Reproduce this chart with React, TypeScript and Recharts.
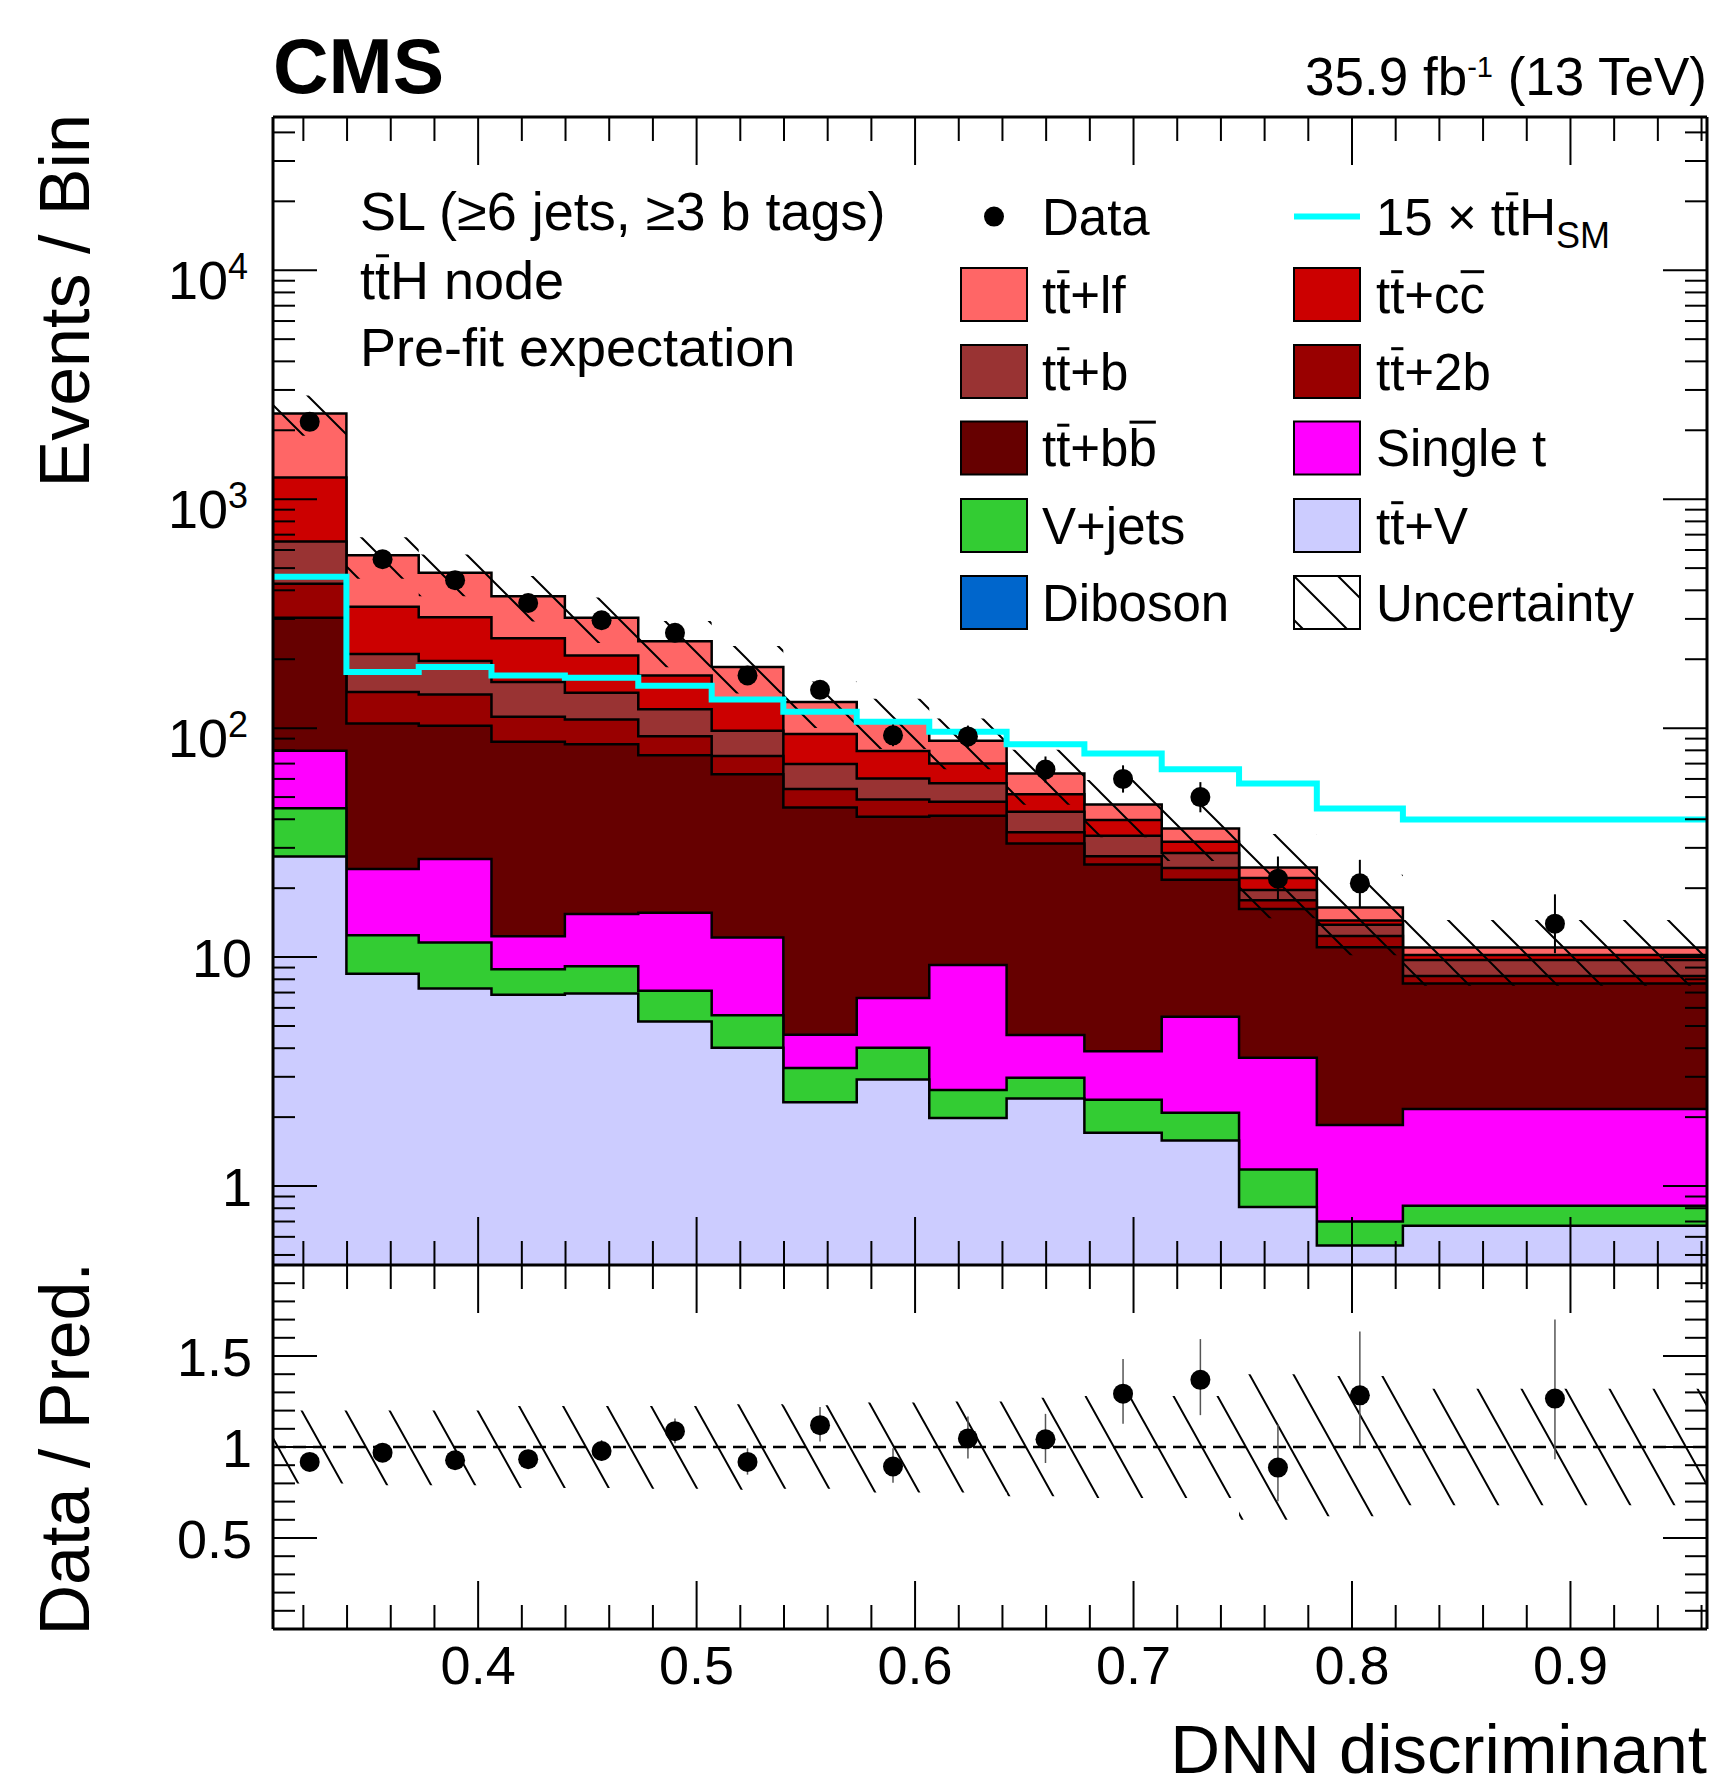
import React from "react";
import {
  Area,
  ComposedChart,
  ErrorBar,
  Line,
  ReferenceLine,
  Scatter,
  XAxis,
  YAxis,
} from "recharts";

const FONT = "'Liberation Sans', Arial, Helvetica, sans-serif";

// bin edges of the DNN discriminant
const binEdges = [
  0.3061, 0.3397, 0.3728, 0.4061, 0.4397, 0.4733, 0.5069, 0.5397, 0.5733, 0.6065, 0.6419, 0.6775,
  0.7129, 0.7483, 0.7839, 0.8233, 0.9625,
];

// pre-fit yields per process (bottom of the stack first)
const diboson = [0.12, 0.05, 0.04, 0.04, 0.03, 0.03, 0.02, 0.02, 0.02, 0.02, 0.01, 0.01, 0.01, 0.01, 0.01, 0.01];
const ttV = [27.4, 8.4, 7.25, 6.8, 6.9, 5.2, 4.0, 2.3, 2.9, 1.96, 2.4, 1.7, 1.57, 0.8, 0.54, 0.66];
const vJets = [17.2, 4.0, 4.3, 2.0, 2.2, 1.9, 1.55, 0.96, 1.1, 0.65, 0.56, 0.67, 0.51, 0.37, 0.15, 0.15];
const singleT = [35, 11.8, 15.2, 3.5, 6.3, 8.5, 6.6, 1.3, 2.6, 6.6, 1.6, 1.5, 3.4, 2.45, 1.15, 1.35];
const ttbb = [224, 80.6, 75.6, 74.8, 69.7, 60.6, 50.7, 40.4, 34.4, 32.2, 26.8, 21.5, 16.3, 12.6, 9.2, 5.5];
const tt2b = [124, 39, 38, 25, 24, 16, 12.7, 9.3, 7.8, 6.3, 3.7, 2.2, 2.7, 1.5, 1.3, 0.6];
const ttb = [225, 67, 56, 47, 33.6, 28.6, 21.8, 15.4, 11.5, 9.7, 8.1, 6.3, 4.0, 1.9, 1.5, 1.44];
const ttcc = [591, 128, 109, 88, 65, 49, 37.7, 24.6, 19.1, 12.7, 8.3, 5.8, 3.4, 2.5, 0.6, 0.5];
const ttlf = [1123, 230, 172, 130, 96, 70, 50, 35.8, 28.6, 18, 11.9, 6.7, 4.6, 2.5, 2.0, 0.8];

// 15 x ttH signal
const ttH15 = [458, 176, 185, 170, 166, 153, 133.5, 117.8, 106.6, 96.4, 85.1, 77.5, 66.2, 57.3, 44.6, 39.9];

// relative uncertainty band
const uncDown = [0.8, 0.79, 0.79, 0.775, 0.775, 0.77, 0.765, 0.77, 0.75, 0.75, 0.73, 0.72, 0.72, 0.6, 0.62, 0.68];
const uncUp = [1.2, 1.2, 1.2, 1.225, 1.225, 1.225, 1.235, 1.23, 1.245, 1.25, 1.27, 1.28, 1.28, 1.4, 1.39, 1.32];

// data
const dataCounts = [2177, 547, 443, 352, 296, 261, 170, 147, 93, 92, 66, 60, 50, 22, 21, 14];
const dataErrDown = [46, 23, 21, 19, 17, 16, 13, 12, 9.6, 9.5, 8.1, 7.7, 7.1, 4.2, 4.5, 3.6];
const dataErrUp = [47, 24, 22, 20, 18, 17, 14, 13, 10.7, 10.6, 9.2, 8.8, 8.1, 5.5, 5.6, 4.8];

// data / prediction
const ratioValues = [0.918, 0.969, 0.927, 0.933, 0.978, 1.087, 0.918, 1.12, 0.893, 1.047, 1.042, 1.293, 1.369, 0.887, 1.284, 1.266];
const ratioErrDown = [0.02, 0.04, 0.045, 0.05, 0.055, 0.066, 0.07, 0.09, 0.09, 0.11, 0.13, 0.165, 0.194, 0.185, 0.28, 0.333];
const ratioErrUp = [0.02, 0.04, 0.045, 0.05, 0.06, 0.07, 0.075, 0.1, 0.1, 0.12, 0.14, 0.19, 0.224, 0.237, 0.35, 0.434];

// axes
const X_MIN = 0.3061;
const X_MAX = 0.9625;
const Y_MIN = 0.452;
const Y_MAX = 46700;
const xTicks = [
  0.32, 0.34, 0.36, 0.38, 0.4, 0.42, 0.44, 0.46, 0.48, 0.5, 0.52, 0.54, 0.56, 0.58, 0.6, 0.62, 0.64,
  0.66, 0.68, 0.7, 0.72, 0.74, 0.76, 0.78, 0.8, 0.82, 0.84, 0.86, 0.88, 0.9, 0.92, 0.94, 0.96,
];
const xMajor = [0.4, 0.5, 0.6, 0.7, 0.8, 0.9];
const xLabels = ["0.4", "0.5", "0.6", "0.7", "0.8", "0.9"];
const mainYTicks = [
  0.5, 0.6, 0.7, 0.8, 0.9, 1, 2, 3, 4, 5, 6, 7, 8, 9, 10, 20, 30, 40, 50, 60, 70, 80, 90, 100, 200,
  300, 400, 500, 600, 700, 800, 900, 1000, 2000, 3000, 4000, 5000, 6000, 7000, 8000, 9000, 10000,
  20000, 30000, 40000,
];
const mainYLabels = [
  { value: 1, base: "1", exp: "" },
  { value: 10, base: "10", exp: "" },
  { value: 100, base: "10", exp: "2" },
  { value: 1000, base: "10", exp: "3" },
  { value: 10000, base: "10", exp: "4" },
];
const ratioYTicks = [0.1, 0.2, 0.3, 0.4, 0.5, 0.6, 0.7, 0.8, 0.9, 1, 1.1, 1.2, 1.3, 1.4, 1.5, 1.6, 1.7, 1.8, 1.9];
const ratioMajor = [0.5, 1, 1.5];
const ratioLabels = ["0.5", "1", "1.5"];

const stack = [
  { key: "diboson", values: diboson, color: "#0066cc" },
  { key: "ttV", values: ttV, color: "#ccccff" },
  { key: "vjets", values: vJets, color: "#33cc33" },
  { key: "singleT", values: singleT, color: "#ff00ff" },
  { key: "ttbb", values: ttbb, color: "#660000" },
  { key: "tt2b", values: tt2b, color: "#990000" },
  { key: "ttb", values: ttb, color: "#993333" },
  { key: "ttcc", values: ttcc, color: "#cc0000" },
  { key: "ttlf", values: ttlf, color: "#ff6666" },
];

const nBins = binEdges.length - 1;
const histRows = binEdges.map((edge, i) => {
  const b = Math.min(i, nBins - 1);
  const row: Record<string, any> = { x: edge };
  let cum = 0;
  for (const s of stack) {
    cum += s.values[b];
    row[s.key] = cum;
  }
  row.band = [cum * uncDown[b], cum * uncUp[b]];
  row.ratioBand = [uncDown[b], uncUp[b]];
  row.ttH = ttH15[b];
  return row;
});

const centers = dataCounts.map((_, i) => (binEdges[i] + binEdges[i + 1]) / 2);
const dataPoints = dataCounts.map((v, i) => ({ x: centers[i], y: v, err: [dataErrDown[i], dataErrUp[i]] }));
const ratioPoints = ratioValues.map((v, i) => ({ x: centers[i], y: v, err: [ratioErrDown[i], ratioErrUp[i]] }));

const near = (a: number, b: number) => Math.abs(a - b) < 1e-6 * Math.max(1, Math.abs(b));
const frameLine = { stroke: "#000", strokeWidth: 3 };

const xTick = (dir: number, withLabel: boolean) => (props: any) => {
  const { x, y, payload } = props;
  const idx = xMajor.findIndex((m) => near(payload.value, m));
  const len = idx >= 0 ? 48 : 24;
  return (
    <g>
      <line x1={x} x2={x} y1={y} y2={y + dir * len} stroke="#000" strokeWidth={2} />
      {withLabel && idx >= 0 && (
        <text x={x} y={y + 55} textAnchor="middle" fontSize={54} fontFamily={FONT} fill="#000">
          {xLabels[idx]}
        </text>
      )}
    </g>
  );
};

const logTick = (dir: number, withLabel: boolean) => (props: any) => {
  const { x, y, payload } = props;
  const lab = mainYLabels.find((l) => near(payload.value, l.value));
  const len = lab ? 44 : 22;
  return (
    <g>
      <line x1={x} x2={x + dir * len} y1={y} y2={y} stroke="#000" strokeWidth={2} />
      {withLabel && lab && lab.exp && (
        <text x={x - 25} y={y + 29} textAnchor="end" fontSize={54} fontFamily={FONT} fill="#000">
          {lab.base}
          <tspan dy={-20} fontSize={36}>
            {lab.exp}
          </tspan>
        </text>
      )}
      {withLabel && lab && !lab.exp && (
        <text x={x - 21} y={y + 20} textAnchor="end" fontSize={54} fontFamily={FONT} fill="#000">
          {lab.base}
        </text>
      )}
    </g>
  );
};

const ratioTick = (dir: number, withLabel: boolean) => (props: any) => {
  const { x, y, payload } = props;
  const idx = ratioMajor.findIndex((m) => near(payload.value, m));
  const len = idx >= 0 ? 44 : 22;
  return (
    <g>
      <line x1={x} x2={x + dir * len} y1={y} y2={y} stroke="#000" strokeWidth={2} />
      {withLabel && idx >= 0 && (
        <text x={x - 21} y={y + 20} textAnchor="end" fontSize={54} fontFamily={FONT} fill="#000">
          {ratioLabels[idx]}
        </text>
      )}
    </g>
  );
};

const dataDot = (props: any) => <circle cx={props.cx} cy={props.cy} r={10} fill="#000" />;

function hatchPath(w: number, h: number) {
  return `M${-0.1 * w},${-0.1 * h} L${1.1 * w},${1.1 * h} M${0.9 * w},${-0.1 * h} L${1.1 * w},${0.1 * h} M${-0.1 * w},${0.9 * h} L${0.1 * w},${1.1 * h}`;
}

// overline helper using Arial/Liberation advance widths
const ADV: Record<string, number> = {
  t: 0.278, "+": 0.584, l: 0.222, f: 0.278, c: 0.5, b: 0.556, V: 0.667, H: 0.722, "1": 0.556,
  "5": 0.556, " ": 0.278, "×": 0.584, "2": 0.556,
};
const adv = (s: string) => [...s].reduce((a, ch) => a + (ADV[ch] ?? 0.556), 0);

function BarText(p: { x: number; y: number; size: number; text: string; bars: number[]; children?: React.ReactNode }) {
  const chars = [...p.text];
  return (
    <g>
      <text x={p.x} y={p.y} fontSize={p.size} fontFamily={FONT} fill="#000">
        {p.text}
        {p.children}
      </text>
      {p.bars.map((i) => {
        const x0 = p.x + adv(chars.slice(0, i).join("")) * p.size;
        const w = (ADV[chars[i]] ?? 0.556) * p.size;
        const h = chars[i] === "b" ? 0.86 : 0.8;
        return (
          <line key={i} x1={x0 + 1} x2={x0 + w - 1} y1={p.y - h * p.size} y2={p.y - h * p.size} stroke="#000" strokeWidth={3} />
        );
      })}
    </g>
  );
}

const legendRows = [216.6, 294.5, 371.5, 448, 525.5, 602.5];
const LEG_FS = 51;

function LegendBox({ x, cy, fill }: { x: number; cy: number; fill: string }) {
  return <rect x={x} y={cy - 26.5} width={66} height={53} fill={fill} stroke="#000" strokeWidth={2} />;
}

function Overlay() {
  const c1 = 961;
  const c2 = 1294;
  const t1 = 1042;
  const t2 = 1376;
  const r = legendRows;
  const base = (i: number) => r[i] + 18;
  return (
    <svg width={1724} height={1788} style={{ position: "absolute", left: 0, top: 0, pointerEvents: "none" }}>
      <defs>
        <pattern id="hatchLegend" patternUnits="userSpaceOnUse" width={44} height={44} x={c2} y={r[5] - 26.5}>
          <path d={hatchPath(44, 44)} stroke="#000" strokeWidth={2} fill="none" />
        </pattern>
      </defs>
      <text x={273} y={93} fontSize={77} fontWeight="bold" fontFamily={FONT} fill="#000">
        CMS
      </text>
      <text x={1707} y={95} fontSize={53} textAnchor="end" fontFamily={FONT} fill="#000">
        35.9 fb
        <tspan dy={-18} fontSize={29}>
          -1
        </tspan>
        <tspan dy={18}> (13 TeV)</tspan>
      </text>
      <text transform="translate(89,114) rotate(-90)" textAnchor="end" fontSize={70} fontFamily={FONT} fill="#000">
        Events / Bin
      </text>
      <text transform="translate(89,1262) rotate(-90)" textAnchor="end" fontSize={70} fontFamily={FONT} fill="#000">
        Data / Pred.
      </text>
      <text x={1707} y={1773} textAnchor="end" fontSize={69} fontFamily={FONT} fill="#000">
        DNN discriminant
      </text>

      <text x={360} y={230} fontSize={54} fontFamily={FONT} fill="#000">
        SL (≥6 jets, ≥3 b tags)
      </text>
      <BarText x={360} y={299} size={54} text="ttH node" bars={[1]} />
      <text x={360} y={366} fontSize={54} fontFamily={FONT} fill="#000">
        Pre-fit expectation
      </text>

      {/* legend column 1 */}
      <circle cx={994} cy={r[0]} r={10} fill="#000" />
      <text x={t1} y={base(0)} fontSize={LEG_FS} fontFamily={FONT} fill="#000">
        Data
      </text>
      <LegendBox x={c1} cy={r[1]} fill="#ff6666" />
      <BarText x={t1} y={base(1)} size={LEG_FS} text="tt+lf" bars={[1]} />
      <LegendBox x={c1} cy={r[2]} fill="#993333" />
      <BarText x={t1} y={base(2)} size={LEG_FS} text="tt+b" bars={[1]} />
      <LegendBox x={c1} cy={r[3]} fill="#660000" />
      <BarText x={t1} y={base(3)} size={LEG_FS} text="tt+bb" bars={[1, 4]} />
      <LegendBox x={c1} cy={r[4]} fill="#33cc33" />
      <text x={t1} y={base(4)} fontSize={LEG_FS} fontFamily={FONT} fill="#000">
        V+jets
      </text>
      <LegendBox x={c1} cy={r[5]} fill="#0066cc" />
      <text x={t1} y={base(5)} fontSize={LEG_FS} fontFamily={FONT} fill="#000">
        Diboson
      </text>

      {/* legend column 2 */}
      <line x1={c2} x2={c2 + 66} y1={r[0]} y2={r[0]} stroke="#00ffff" strokeWidth={6} />
      <BarText x={t2} y={base(0)} size={LEG_FS} text="15 × ttH" bars={[6]}>
        <tspan dy={13} fontSize={36}>
          SM
        </tspan>
      </BarText>
      <LegendBox x={c2} cy={r[1]} fill="#cc0000" />
      <BarText x={t2} y={base(1)} size={LEG_FS} text="tt+cc" bars={[1, 4]} />
      <LegendBox x={c2} cy={r[2]} fill="#990000" />
      <BarText x={t2} y={base(2)} size={LEG_FS} text="tt+2b" bars={[1]} />
      <LegendBox x={c2} cy={r[3]} fill="#ff00ff" />
      <text x={t2} y={base(3)} fontSize={LEG_FS} fontFamily={FONT} fill="#000">
        Single t
      </text>
      <LegendBox x={c2} cy={r[4]} fill="#ccccff" />
      <BarText x={t2} y={base(4)} size={LEG_FS} text="tt+V" bars={[1]} />
      <LegendBox x={c2} cy={r[5]} fill="#ffffff" />
      <rect x={c2} y={r[5] - 26.5} width={66} height={53} fill="url(#hatchLegend)" stroke="#000" strokeWidth={2} />
      <text x={t2} y={base(5)} fontSize={LEG_FS} fontFamily={FONT} fill="#000">
        Uncertainty
      </text>
    </svg>
  );
}

function MainPanel() {
  return (
    <ComposedChart width={1724} height={1266} data={histRows} margin={{ top: 116, right: 16, bottom: 0, left: 0 }}>
      <defs>
        <pattern id="hatchMain" patternUnits="userSpaceOnUse" width={44} height={44}>
          <path d={hatchPath(44, 44)} stroke="#000" strokeWidth={2} fill="none" />
        </pattern>
      </defs>
      {[...stack].reverse().map((s) => (
        <Area
          key={s.key}
          dataKey={s.key}
          type="stepAfter"
          fill={s.color}
          fillOpacity={1}
          stroke="#000"
          strokeWidth={2.5}
          baseValue={Y_MIN}
          dot={false}
          activeDot={false}
          isAnimationActive={false}
        />
      ))}
      <Area
        dataKey="band"
        type="stepAfter"
        fill="url(#hatchMain)"
        fillOpacity={1}
        stroke="none"
        dot={false}
        activeDot={false}
        isAnimationActive={false}
      />
      <Line dataKey="ttH" type="stepAfter" stroke="#00ffff" strokeWidth={6} dot={false} activeDot={false} isAnimationActive={false} />
      <Scatter data={dataPoints} dataKey="y" shape={dataDot} isAnimationActive={false}>
        <ErrorBar dataKey="err" direction="y" width={0} stroke="#000" strokeWidth={2} />
      </Scatter>
      <XAxis
        dataKey="x"
        type="number"
        domain={[X_MIN, X_MAX]}
        allowDataOverflow
        ticks={xTicks}
        interval={0}
        tickSize={0}
        tickMargin={0}
        height={1}
        axisLine={frameLine}
        tick={xTick(-1, false)}
      />
      <XAxis
        xAxisId="top"
        orientation="top"
        dataKey="x"
        type="number"
        domain={[X_MIN, X_MAX]}
        allowDataOverflow
        ticks={xTicks}
        interval={0}
        tickSize={0}
        tickMargin={0}
        height={1}
        axisLine={frameLine}
        tick={xTick(1, false)}
      />
      <YAxis
        scale="log"
        type="number"
        domain={[Y_MIN, Y_MAX]}
        allowDataOverflow
        ticks={mainYTicks}
        interval={0}
        tickSize={0}
        tickMargin={0}
        width={273}
        axisLine={frameLine}
        tick={logTick(1, true)}
      />
      <YAxis
        yAxisId="right"
        orientation="right"
        scale="log"
        type="number"
        domain={[Y_MIN, Y_MAX]}
        allowDataOverflow
        ticks={mainYTicks}
        interval={0}
        tickSize={0}
        tickMargin={0}
        width={1}
        axisLine={frameLine}
        tick={logTick(-1, false)}
      />
    </ComposedChart>
  );
}

function RatioPanel() {
  return (
    <ComposedChart width={1724} height={525} data={histRows} margin={{ top: 0, right: 16, bottom: 0, left: 0 }}>
      <defs>
        <pattern id="hatchRatio" patternUnits="userSpaceOnUse" width={44} height={79}>
          <path d={hatchPath(44, 79)} stroke="#000" strokeWidth={2} fill="none" />
        </pattern>
      </defs>
      <Area
        dataKey="ratioBand"
        type="stepAfter"
        fill="url(#hatchRatio)"
        fillOpacity={1}
        stroke="none"
        dot={false}
        activeDot={false}
        isAnimationActive={false}
      />
      <ReferenceLine y={1} stroke="#000" strokeWidth={2.5} strokeDasharray="13 7" />
      <Scatter data={ratioPoints} dataKey="y" shape={dataDot} isAnimationActive={false}>
        <ErrorBar dataKey="err" direction="y" width={0} stroke="#555" strokeWidth={1.5} />
      </Scatter>
      <XAxis
        dataKey="x"
        type="number"
        domain={[X_MIN, X_MAX]}
        allowDataOverflow
        ticks={xTicks}
        interval={0}
        tickSize={0}
        tickMargin={0}
        height={160}
        axisLine={frameLine}
        tick={xTick(-1, true)}
      />
      <XAxis
        xAxisId="top"
        orientation="top"
        dataKey="x"
        type="number"
        domain={[X_MIN, X_MAX]}
        allowDataOverflow
        ticks={xTicks}
        interval={0}
        tickSize={0}
        tickMargin={0}
        height={1}
        axisLine={frameLine}
        tick={xTick(1, false)}
      />
      <YAxis
        type="number"
        domain={[0, 2]}
        allowDataOverflow
        ticks={ratioYTicks}
        interval={0}
        tickSize={0}
        tickMargin={0}
        width={273}
        axisLine={frameLine}
        tick={ratioTick(1, true)}
      />
      <YAxis
        yAxisId="right"
        orientation="right"
        type="number"
        domain={[0, 2]}
        allowDataOverflow
        ticks={ratioYTicks}
        interval={0}
        tickSize={0}
        tickMargin={0}
        width={1}
        axisLine={frameLine}
        tick={ratioTick(-1, false)}
      />
    </ComposedChart>
  );
}

export default function App() {
  return (
    <div style={{ position: "absolute", left: 0, top: 0, width: 1724, height: 1788, background: "#fff", fontFamily: FONT }}>
      <div style={{ position: "absolute", left: 0, top: 0 }}>
        <MainPanel />
      </div>
      <div style={{ position: "absolute", left: 0, top: 1264 }}>
        <RatioPanel />
      </div>
      <Overlay />
    </div>
  );
}
